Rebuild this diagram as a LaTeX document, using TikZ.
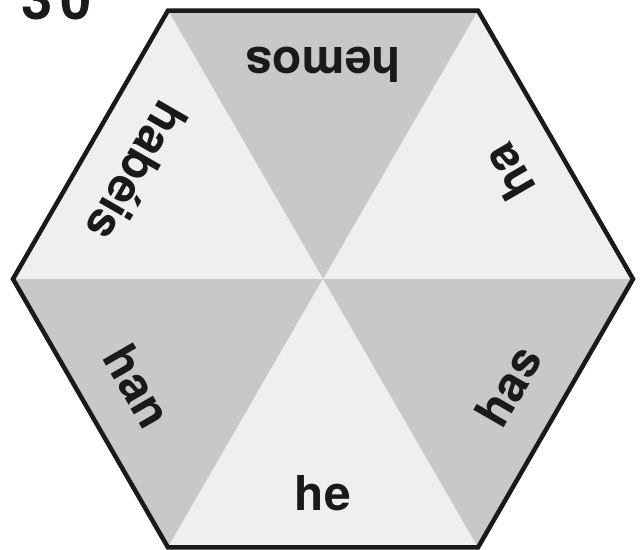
\documentclass[tikz,border=0pt]{standalone}
\usepackage{fontspec}
\setmainfont{TeX Gyre Heros}
\definecolor{darkseg}{HTML}{C8C8C8}
\definecolor{lightseg}{HTML}{EFEFEF}
\definecolor{edge}{HTML}{1A1A1A}
\begin{document}
\begin{tikzpicture}[x=1pt,y=1pt,
  seglabel/.style={font=\fontsize{48}{48}\selectfont\bfseries, text=edge, inner sep=0pt, anchor=center},
  hexedge/.style={draw=edge, line width=4.5pt, line join=miter}]
\useasboundingbox (-323,-270) rectangle (317,279);
\fill[white] (-323,-270) rectangle (317,279);
\coordinate (O) at (0,0);
\foreach \i in {0,...,5} { \coordinate (v\i) at ({60*\i}:310); }
% sectors
\fill[lightseg] (O) -- (v0) -- (v1) -- cycle;
\fill[darkseg]  (O) -- (v1) -- (v2) -- cycle;
\fill[lightseg] (O) -- (v2) -- (v3) -- cycle;
\fill[darkseg]  (O) -- (v3) -- (v4) -- cycle;
\fill[lightseg] (O) -- (v4) -- (v5) -- cycle;
\fill[darkseg]  (O) -- (v5) -- (v0) -- cycle;
\draw[hexedge] (v0) -- (v1) -- (v2) -- (v3) -- (v4) -- (v5) -- cycle;
% labels
\node[seglabel, rotate=180] (lhemos) at (90:214) {hemos};
\node[seglabel, rotate=120] (lha) at (30:214) {ha};
\node[seglabel, rotate=60] (lhas) at (-30:214) {has};
\node[seglabel, rotate=0] (lhe) at (-90:214) {he};
\node[seglabel, rotate=-60] (lhan) at (-150:214) {han};
\node[seglabel, rotate=-120] (lhabeis) at (150:214) {habéis};
\node[font=\fontsize{56}{56}\selectfont\bfseries, text=edge, inner sep=0pt, anchor=base west] (num) at (-302,259) {3\kern8pt0};
\end{tikzpicture}
\end{document}
